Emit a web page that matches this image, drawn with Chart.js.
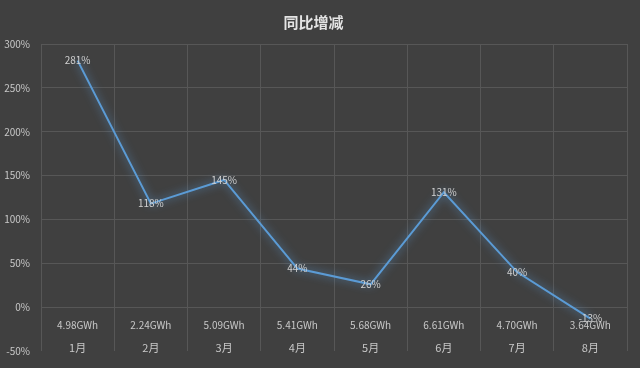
<!DOCTYPE html>
<html>
<head>
<meta charset="utf-8">
<script src="https://cdn.jsdelivr.net/npm/chart.js@4"></script>
<style>
    html, body { margin: 0; padding: 0; background: #404040; }
    #wrap { width: 640px; height: 368px; }
</style>
</head>
<body>
<div id="wrap"><canvas id="yoy-chart"></canvas></div>
<script>
// Datos del gráfico
const months = ['1月', '2月', '3月', '4月', '5月', '6月', '7月', '8月'];
const energy = ['4.98GWh', '2.24GWh', '5.09GWh', '5.41GWh', '5.68GWh', '6.61GWh', '4.70GWh', '3.64GWh'];
const yoyChange = [281, 118, 145, 44, 26, 131, 40, -13];
const yTicks = [-50, 0, 50, 100, 150, 200, 250, 300];

const FONT = '"Noto Sans CJK SC", "Open Sans", sans-serif';
const TEXT = '#c8c8c8';
const GRID = '#575757';

// Fondo oscuro
const background = {
    id: 'background',
    beforeDraw(chart) {
        const c = chart.ctx;
        c.save();
        c.fillStyle = '#404040';
        c.fillRect(0, 0, chart.width, chart.height);
        c.restore();
    }
};

// Brillo alrededor de la línea
const glow = {
    id: 'glow',
    beforeDatasetDraw(chart) {
        const c = chart.ctx;
        c.save();
        c.shadowColor = 'rgba(91, 155, 213, 0.9)';
        c.shadowBlur = 8;
    },
    afterDatasetDraw(chart) {
        chart.ctx.restore();
    }
};

// Etiquetas de datos y etiquetas de categorías (dentro del área)
const labels = {
    id: 'labels',
    afterDatasetsDraw(chart) {
        const c = chart.ctx;
        const meta = chart.getDatasetMeta(0);
        const x = chart.scales.x;
        c.save();
        c.textAlign = 'center';
        c.textBaseline = 'middle';
        c.fillStyle = '#d0d0d0';
        c.font = '10px ' + FONT;
        meta.data.forEach((pt, i) => {
            c.fillText(yoyChange[i] + '%', pt.x, pt.y);
        });
        c.fillStyle = TEXT;
        energy.forEach((e, i) => {
            c.fillText(e, x.getPixelForValue(i), 325);
        });
        c.font = '11px ' + FONT;
        months.forEach((m, i) => {
            c.fillText(m, x.getPixelForValue(i), 348);
        });
        c.restore();
    }
};

const ctx = document.getElementById('yoy-chart').getContext('2d');
new Chart(ctx, {
    type: 'line',
    data: {
        labels: months,
        datasets: [{
            data: yoyChange,
            borderColor: '#5b9bd5',
            borderWidth: 2,
            pointRadius: 0,
            tension: 0,
            fill: false
        }]
    },
    options: {
        responsive: true,
        maintainAspectRatio: false,
        animation: false,
        layout: { padding: { left: 0, right: 13, top: 0, bottom: 13 } },
        plugins: {
            legend: { display: false },
            tooltip: { enabled: false },
            title: {
                display: true,
                text: '同比增减',
                color: '#e4e4e4',
                font: { family: FONT, size: 15, weight: 'bold' },
                padding: { top: 13, bottom: 13 }
            }
        },
        scales: {
            x: {
                offset: true,
                border: { display: false },
                grid: { offset: true, color: GRID, drawTicks: false },
                ticks: { display: false }
            },
            y: {
                min: -50,
                max: 300,
                afterFit(scale) { scale.width = 41; },
                afterBuildTicks(scale) {
                    scale.ticks = yTicks.map(v => ({ value: v }));
                },
                border: { display: false },
                grid: {
                    drawTicks: false,
                    color: c => (c.tick && c.tick.value === -50) ? 'rgba(0,0,0,0)' : GRID
                },
                ticks: {
                    padding: 11,
                    color: TEXT,
                    font: { family: FONT, size: 10 },
                    callback: v => v + '%'
                }
            }
        }
    },
    plugins: [background, glow, labels]
});
</script>
</body>
</html>
